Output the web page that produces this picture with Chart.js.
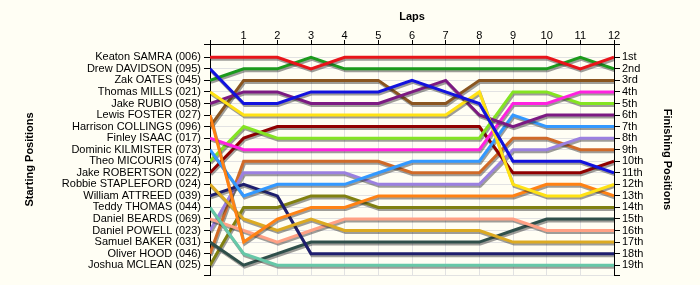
<!DOCTYPE html>
<html>
<head>
<meta charset="utf-8">
<script src="https://cdn.jsdelivr.net/npm/chart.js@4"></script>
<style>
  html, body { margin: 0; padding: 0; background: #fffef4; }
  #wrap { width: 700px; height: 285px; }
</style>
</head>
<body>
<div id="wrap"><canvas id="lapChart" width="700" height="285"></canvas></div>
<script>
// laps 0 (grid) .. 12
var laps = [0, 1, 2, 3, 4, 5, 6, 7, 8, 9, 10, 11, 12]

var startNames = [
    'Keaton SAMRA (006)', 'Drew DAVIDSON (095)', 'Zak OATES (045)', 'Thomas MILLS (021)',
    'Jake RUBIO (058)', 'Lewis FOSTER (027)', 'Harrison COLLINGS (096)', 'Finley ISAAC (017)',
    'Dominic KILMISTER (073)', 'Theo MICOURIS (074)', 'Jake ROBERTSON (022)', 'Robbie STAPLEFORD (024)',
    'William ATTREED (039)', 'Teddy THOMAS (044)', 'Daniel BEARDS (069)', 'Daniel POWELL (023)',
    'Samuel BAKER (031)', 'Oliver HOOD (046)', 'Joshua MCLEAN (025)'
]

var finishLabels = ['1st', '2nd', '3rd', '4th', '5th', '6th', '7th', '8th', '9th', '10th',
    '11th', '12th', '13th', '14th', '15th', '16th', '17th', '18th', '19th']

// position after each lap, one array per rider
var keatonSamra      = [1, 1, 1, 2, 1, 1, 1, 1, 1, 1, 1, 2, 1]
var drewDavidson     = [2, 5, 5, 4, 4, 4, 3, 4, 5, 10, 10, 10, 11]
var zakOates         = [3, 2, 2, 1, 2, 2, 2, 2, 2, 2, 2, 1, 2]
var thomasMills      = [4, 6, 6, 6, 6, 6, 6, 6, 4, 12, 13, 13, 12]
var jakeRubio        = [5, 4, 4, 5, 5, 5, 4, 3, 6, 7, 6, 6, 6]
var lewisFoster      = [6, 17, 15, 14, 14, 13, 13, 13, 13, 13, 12, 12, 13]
var harrisonCollings = [7, 3, 3, 3, 3, 3, 5, 5, 3, 3, 3, 3, 3]
var finleyIsaac      = [8, 9, 9, 9, 9, 9, 9, 9, 9, 5, 5, 4, 4]
var dominicKilmister = [9, 13, 12, 12, 12, 11, 10, 10, 10, 6, 7, 7, 7]
var theoMicouris     = [10, 7, 8, 8, 8, 8, 8, 8, 8, 4, 4, 5, 5]
var jakeRobertson    = [11, 8, 7, 7, 7, 7, 7, 7, 7, 11, 11, 11, 10]
var robbieStapleford = [12, 15, 16, 15, 16, 16, 16, 16, 16, 17, 17, 17, 17]
var williamAttreed   = [13, 12, 13, 18, 18, 18, 18, 18, 18, 18, 18, 18, 18]
var teddyThomas      = [14, 18, 19, 19, 19, 19, 19, 19, 19, 19, 19, 19, 19]
var danielBeards     = [15, 16, 17, 16, 15, 15, 15, 15, 15, 15, 16, 16, 16]
var danielPowell     = [16, 11, 11, 11, 11, 12, 12, 12, 12, 9, 9, 8, 8]
var samuelBaker      = [17, 19, 18, 17, 17, 17, 17, 17, 17, 16, 15, 15, 15]
var oliverHood       = [18, 10, 10, 10, 10, 10, 11, 11, 11, 8, 8, 9, 9]
var joshuaMclean     = [19, 14, 14, 13, 13, 14, 14, 14, 14, 14, 14, 14, 14]

var riderSeries = [keatonSamra, drewDavidson, zakOates, thomasMills, jakeRubio, lewisFoster,
    harrisonCollings, finleyIsaac, dominicKilmister, theoMicouris, jakeRobertson, robbieStapleford,
    williamAttreed, teddyThomas, danielBeards, danielPowell, samuelBaker, oliverHood, joshuaMclean]

var riderColors = ['#e8141a', '#1212de', '#1c9a1c', '#ffe214', '#7c1a82', '#ff8214',
    '#8a5520', '#ff22e0', '#3399ff', '#84e422', '#900000', '#dcaa22',
    '#1e1e6e', '#66c8a8', '#ffa084', '#9b80e0', '#2f4f4a', '#d06a28', '#808010']

// the position axis has a bit more room above 1st than below 19th
var posMin = -0.15
var posMax = 19.85

var datasets = []
for (var i in riderSeries) {
    datasets.push({
        label: startNames[i],
        data: laps.map(function (lap, j) { return { x: lap, y: riderSeries[i][j] } }),
        borderColor: riderColors[i],
        backgroundColor: riderColors[i],
        borderWidth: 3,
        pointRadius: 0,
        tension: 0,
        yAxisID: 'y'
    })
}

function positionTicks(scale) {
    var t = [{ value: posMin }]
    for (var p = 1; p <= finishLabels.length; p++) t.push({ value: p })
    t.push({ value: posMax })
    scale.ticks = t
}

// grey drop shadow under each line
var lineShadow = {
    id: 'lineShadow',
    beforeDatasetDraw: function (chart) {
        var c = chart.ctx
        c.save()
        c.shadowColor = 'rgba(40,40,40,0.45)'
        c.shadowOffsetX = 1
        c.shadowOffsetY = 2
        c.shadowBlur = 0
    },
    afterDatasetDraw: function (chart) {
        chart.ctx.restore()
    }
}

var tickFont = { family: 'Liberation Sans, Arial, sans-serif', size: 11 }
var titleFont = { family: 'Liberation Sans, Arial, sans-serif', size: 11, weight: 'bold' }
var gridColor = '#e2e2e2'

new Chart(document.getElementById('lapChart'), {
    type: 'line',
    data: { datasets: datasets },
    plugins: [lineShadow],
    options: {
        responsive: false,
        animation: false,
        layout: { padding: { top: 0, bottom: 10, left: 0, right: 0 } },
        plugins: {
            legend: { display: false },
            tooltip: { enabled: false }
        },
        scales: {
            x: {
                type: 'linear',
                position: 'top',
                min: 0,
                max: 12,
                afterFit: function (s) { s.height = 44 },
                ticks: {
                    stepSize: 1,
                    autoSkip: false,
                    maxRotation: 0,
                    padding: -3,
                    color: '#000',
                    font: tickFont,
                    callback: function (v) { return v === 0 ? '' : v }
                },
                grid: { color: gridColor, tickColor: '#000', tickLength: 4 },
                border: { color: '#000', width: 1 },
                title: { display: true, text: 'Laps', color: '#000', font: titleFont, padding: { top: 10, bottom: 0 } }
            },
            y: {
                type: 'linear',
                position: 'left',
                reverse: true,
                min: posMin,
                max: posMax,
                afterFit: function (s) { s.width = 210 },
                afterBuildTicks: positionTicks,
                ticks: {
                    autoSkip: false,
                    padding: 3,
                    color: '#000',
                    font: tickFont,
                    callback: function (v) { return startNames[v - 1] || '' }
                },
                grid: { color: gridColor, tickColor: '#000', tickLength: 6 },
                border: { color: '#000', width: 1 },
                title: { display: true, text: 'Starting Positions', color: '#000', font: titleFont, padding: { top: 23, bottom: 0 } }
            },
            y2: {
                type: 'linear',
                position: 'right',
                reverse: true,
                min: posMin,
                max: posMax,
                afterFit: function (s) { s.width = 86 },
                afterBuildTicks: positionTicks,
                ticks: {
                    autoSkip: false,
                    padding: 2,
                    color: '#000',
                    font: tickFont,
                    callback: function (v) { return finishLabels[v - 1] || '' }
                },
                grid: { drawOnChartArea: false, tickColor: '#000', tickLength: 6 },
                border: { color: '#000', width: 1 },
                title: { display: true, text: 'Finishing Positions', color: '#000', font: titleFont, padding: { top: 26, bottom: 0 } }
            }
        }
    }
})
</script>
</body>
</html>
